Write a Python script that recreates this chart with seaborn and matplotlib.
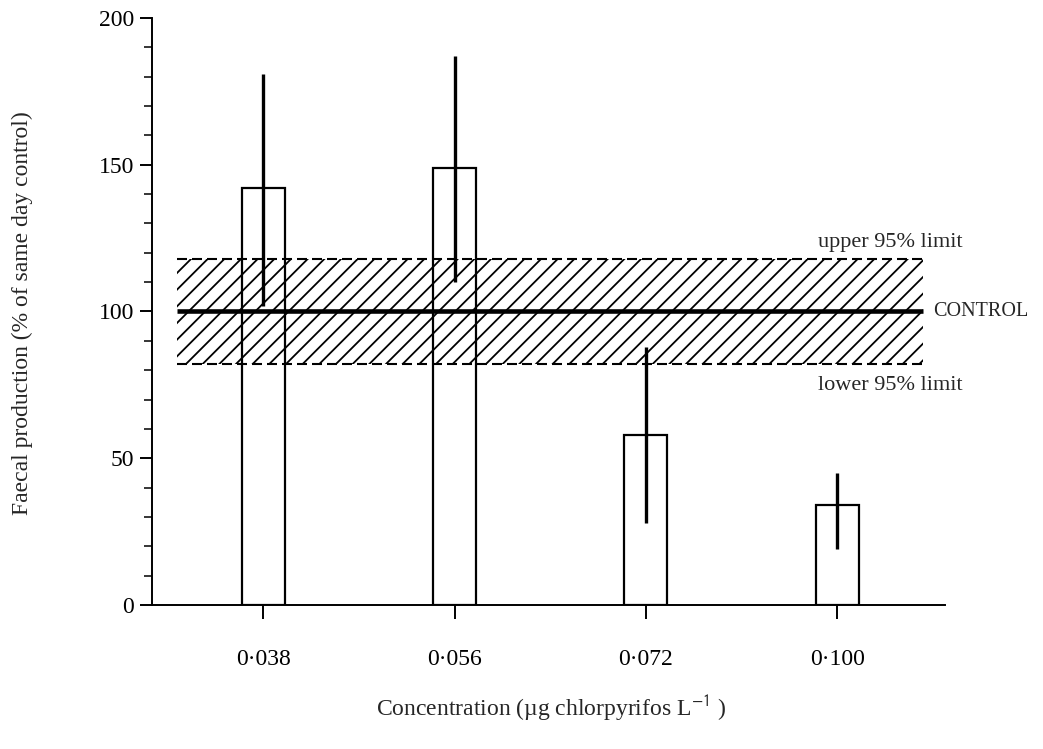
import matplotlib
matplotlib.use("Agg")
import matplotlib.pyplot as plt
from matplotlib.ticker import MultipleLocator
import seaborn as sns
import pandas as pd

# Faecal production per chlorpyrifos concentration (% of same-day control)
concentrations = ["0·038", "0·056", "0·072", "0·100"]
faecal_pct = [142, 149, 58, 34]
err_low = [102, 110, 28, 19]
err_high = [181, 187, 88, 45]

# Control mean and its 95% confidence band
control_level = 100
lower_limit = 82
upper_limit = 118

y_ticks = [0, 50, 100, 150, 200]

sns.set_theme(style="ticks")
plt.rcParams["font.family"] = ["Liberation Serif", "DejaVu Serif"]
plt.rcParams["mathtext.fontset"] = "stix"
plt.rcParams["hatch.linewidth"] = 1.3
plt.rcParams["hatch.color"] = "black"

fig = plt.figure(figsize=(10.43, 7.49), dpi=100)
ax = fig.add_axes([0.1457, 0.1923, 0.7603, 0.7837])

df = pd.DataFrame({"conc": concentrations, "pct": faecal_pct})
sns.barplot(data=df, x="conc", y="pct", width=0.225, fill=False,
            color="black", linewidth=1.6, errorbar=None, ax=ax, zorder=3)

# Vertical error bars through each bar
ax.vlines(range(len(concentrations)), err_low, err_high,
          colors="black", linewidth=2.4, zorder=4)

# Hatched 95% band around the control
band_x = [-0.452, 3.449]
ax.fill_between(band_x, lower_limit, upper_limit, facecolor="none",
                hatch="//", edgecolor="black", linewidth=0, zorder=1)
ax.hlines([lower_limit, upper_limit], band_x[0], band_x[1], colors="black",
          linewidth=1.5, linestyles=[(0, (4.8, 2.4))], zorder=2)
ax.hlines(control_level, band_x[0], band_x[1], colors="black",
          linewidth=3.3, zorder=5)

ax.text(3.277, upper_limit + 5.5, "upper 95% limit", ha="center", va="center",
        fontsize=16)
ax.text(3.277, lower_limit - 7.2, "lower 95% limit", ha="center", va="center",
        fontsize=16)
ax.text(3.50, control_level, "CONTROL", ha="left", va="center", fontsize=14.5)

ax.set_xlim(-0.583, 3.564)
ax.set_ylim(0, 200)
ax.set_yticks(y_ticks)
ax.yaxis.set_minor_locator(MultipleLocator(10))

sns.despine(ax=ax)
for side in ("left", "bottom"):
    ax.spines[side].set_linewidth(1.4)
    ax.spines[side].set_color("black")

ax.tick_params(axis="y", which="major", length=9, width=1.4, direction="out",
               labelsize=17, pad=4, colors="black")
ax.tick_params(axis="y", which="minor", length=6, width=1.1, direction="out",
               colors="black")
ax.tick_params(axis="x", which="major", length=10, width=1.4, direction="out",
               labelsize=17, pad=22, colors="black")

ax.set_xlabel("Concentration (µg chlorpyrifos L$^{\\mathsf{-1}}$ )", fontsize=17)
ax.set_ylabel("Faecal production (% of same day control)", fontsize=17)
ax.xaxis.set_label_coords(0.503, -0.175)
ax.xaxis.label.set_va("center")
ax.yaxis.set_label_coords(-0.164, 0.498)
ax.yaxis.label.set_va("center")

fig.savefig("out.png", dpi=100, facecolor="white")
